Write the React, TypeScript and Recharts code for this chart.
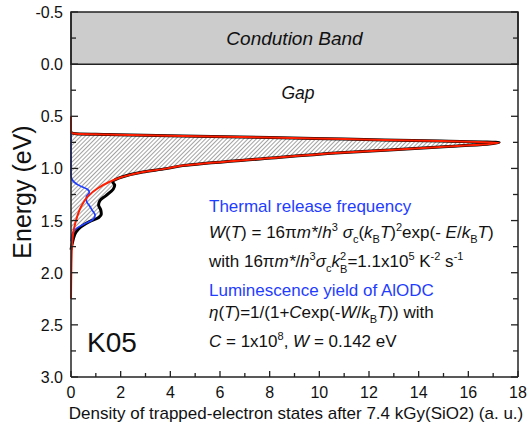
import React from 'react';
import { ComposedChart, Line, Area, XAxis, YAxis, ReferenceArea, Label } from 'recharts';

// trapped-electron density (black, measured) vs energy
const dataEnergy = [0.655, 0.668, 0.675, 0.69, 0.704, 0.719, 0.737, 0.752, 0.795, 0.849, 0.905, 0.973, 1.002, 1.034, 1.08, 1.13, 1.16, 1.2, 1.26, 1.31, 1.35, 1.4, 1.44, 1.47, 1.51, 1.56, 1.61, 1.69, 1.78];
const dataDensity = [0, 0.2, 1.5, 4.5, 8, 11, 14.9, 17.24, 14.86, 10.83, 7.8, 4.5, 3.83, 2.89, 2.08, 1.68, 1.76, 1.7, 1.41, 1.16, 1.11, 1.2, 1.22, 1.12, 0.74, 0.4, 0.2, 0.08, 0];

// fitted distribution (red)
const fitEnergy = [0.5, 0.655, 0.668, 0.675, 0.69, 0.704, 0.719, 0.737, 0.752, 0.795, 0.849, 0.905, 0.973, 1.002, 1.034, 1.08, 1.13, 1.19, 1.27, 1.37, 1.5, 1.62, 1.8, 2.25];
const fitDensity = [0, 0, 0.2, 1.5, 4.5, 8, 11, 14.9, 17.24, 14.86, 10.83, 7.8, 4.5, 3.83, 2.89, 2.08, 1.54, 1.08, 0.67, 0.4, 0.2, 0.09, 0.03, 0];

// luminescence-weighted density (blue)
const lumEnergy = [0.54, 1.06, 1.1, 1.16, 1.2, 1.23, 1.27, 1.31, 1.36, 1.4, 1.45, 1.49, 1.53, 1.57, 1.62, 1.7];
const lumDensity = [0, 0, 0.03, 0.3, 0.66, 0.74, 0.62, 0.62, 0.75, 0.85, 0.97, 0.88, 0.55, 0.25, 0.06, 0];

const xMajor = [0, 2, 4, 6, 8, 10, 12, 14, 16, 18];
const xMinor = [1, 3, 5, 7, 9, 11, 13, 15, 17];
const yMajor = [-0.5, 0, 0.5, 1, 1.5, 2, 2.5, 3];
const yMinor = [-0.25, 0.25, 0.75, 1.25, 1.75, 2.25, 2.75];

const xTicks = [...xMajor, ...xMinor].sort((a, b) => a - b);
const yTicks = [...yMajor, ...yMinor].sort((a, b) => a - b);

const energies = Array.from(new Set([...dataEnergy, ...fitEnergy, ...lumEnergy])).sort((a, b) => a - b);
const table = energies.map((e) => {
  const row: Record<string, number> = { e };
  const i = dataEnergy.indexOf(e);
  const j = fitEnergy.indexOf(e);
  const k = lumEnergy.indexOf(e);
  if (i >= 0) row.data = dataDensity[i];
  if (j >= 0) row.fit = fitDensity[j];
  if (k >= 0) row.lum = lumDensity[k];
  return row;
});

const FONT = '"Liberation Sans", Arial, sans-serif';
const AXIS = '#222';

function XTick(props: any) {
  const { x, y, payload } = props;
  const major = xMajor.includes(payload.value);
  return (
    <g>
      <line x1={x} x2={x} y1={y} y2={y - (major ? 6 : 4)} stroke={AXIS} strokeWidth={1.3} />
      {major && (
        <text x={x} y={y + 21} textAnchor="middle" fontSize={16} fontFamily={FONT} fill="#111">
          {payload.value}
        </text>
      )}
    </g>
  );
}

function YTick(props: any) {
  const { x, y, payload } = props;
  const major = yMajor.includes(payload.value);
  return (
    <g>
      <line x1={x} x2={x + (major ? 7 : 5)} y1={y} y2={y} stroke={AXIS} strokeWidth={1.3} />
      {major && (
        <text x={x - 8} y={y + 6} textAnchor="end" fontSize={16} fontFamily={FONT} fill="#111">
          {payload.value.toFixed(1)}
        </text>
      )}
    </g>
  );
}

function RightTick(props: any) {
  const { x, y, payload } = props;
  const major = yMajor.includes(payload.value);
  return <line x1={x} x2={x - (major ? 7 : 5)} y1={y} y2={y} stroke={AXIS} strokeWidth={1.3} />;
}

const it = { fontStyle: 'italic' as const };

export default function App() {
  return (
    <div style={{ position: 'absolute', left: 0, top: 0, background: '#fff' }}>
      <ComposedChart
        width={530}
        height={432}
        data={table}
        layout="vertical"
        margin={{ top: 12, right: 11, bottom: 15, left: 11 }}
        style={{ fontFamily: FONT }}
      >
        <defs>
          <pattern id="hatch" width={3} height={3} patternUnits="userSpaceOnUse" patternTransform="rotate(45)">
            <line x1={0} y1={0} x2={0} y2={3} stroke="#333" strokeWidth={0.9} />
          </pattern>
        </defs>
        <XAxis
          type="number"
          domain={[0, 18]}
          ticks={xTicks}
          interval={0}
          height={40}
          tickSize={0}
          tickMargin={0}
          tickLine={false}
          tick={(p: any) => <XTick {...p} />}
          axisLine={{ stroke: AXIS, strokeWidth: 1.5 }}
        />
        <YAxis
          type="number"
          dataKey="e"
          domain={[-0.5, 3]}
          ticks={yTicks}
          interval={0}
          width={60}
          tickSize={0}
          tickMargin={0}
          tickLine={false}
          tick={(p: any) => <YTick {...p} />}
          axisLine={{ stroke: AXIS, strokeWidth: 1.5 }}
        />
        <YAxis
          yAxisId="right"
          orientation="right"
          type="number"
          dataKey="e"
          domain={[-0.5, 3]}
          ticks={yTicks}
          interval={0}
          width={1}
          tickSize={0}
          tickMargin={0}
          tickLine={false}
          tick={(p: any) => <RightTick {...p} />}
          axisLine={{ stroke: AXIS, strokeWidth: 1.5 }}
        />
        <ReferenceArea y1={-0.5} y2={0} fill="#cccccc" fillOpacity={1} stroke={AXIS} strokeWidth={1.5}>
          <Label value="Condution Band" position="center" fontStyle="italic" fontSize={19} fill="#111" fontFamily={FONT} />
        </ReferenceArea>
        <Area
          type="monotone"
          dataKey="data"
          fill="url(#hatch)"
          fillOpacity={1}
          stroke="none"
          connectNulls
          isAnimationActive={false}
          activeDot={false}
        />
        <Line type="monotone" dataKey="data" stroke="#000" strokeWidth={3} dot={false} activeDot={false} connectNulls isAnimationActive={false} />
        <Line type="monotone" dataKey="lum" stroke="#1f3dff" strokeWidth={1.7} dot={false} activeDot={false} connectNulls isAnimationActive={false} />
        <Line type="monotone" dataKey="fit" stroke="#ff1e00" strokeWidth={2} dot={false} activeDot={false} connectNulls isAnimationActive={false} />

        <text x={298} y={99} textAnchor="middle" fontStyle="italic" fontSize={17.5} fontFamily={FONT} fill="#111">Gap</text>
        <text x={87} y={352} fontSize={28} fontFamily={FONT} fill="#111">K05</text>
        <text x={31} y={192} transform="rotate(-90, 31, 192)" textAnchor="middle" fontSize={25} fontFamily={FONT} fill="#111">Energy (eV)</text>
        <text x={296} y={419} textAnchor="middle" fontSize={17} fontFamily={FONT} fill="#111">
          Density of trapped-electron states after 7.4 kGy(SiO2) (a. u.)
        </text>

        <g fontFamily={FONT} fontSize={17} fill="#111">
          <text x={209} y={212} fill="#1f3dff">Thermal release frequency</text>
          <text x={209} y={238}>
            <tspan {...it}>W</tspan>(<tspan {...it}>T</tspan>) = 16π<tspan {...it}>m*</tspan>/<tspan {...it}>h</tspan>
            <tspan y={231} fontSize={11}>3</tspan>
            <tspan y={238}>{' '}</tspan><tspan {...it}>σ</tspan>
            <tspan y={243} fontSize={11}>c</tspan>
            <tspan y={238}>(</tspan><tspan {...it}>k</tspan>
            <tspan y={243} fontSize={11}>B</tspan>
            <tspan y={238} {...it}>T</tspan><tspan>)</tspan>
            <tspan y={231} fontSize={11}>2</tspan>
            <tspan y={238}>exp(- </tspan><tspan {...it}>E</tspan>/<tspan {...it}>k</tspan>
            <tspan y={243} fontSize={11}>B</tspan>
            <tspan y={238} {...it}>T</tspan><tspan>)</tspan>
          </text>
          <text x={209} y={267}>
            with 16π<tspan {...it}>m*</tspan>/<tspan {...it}>h</tspan>
            <tspan y={260} fontSize={11}>3</tspan>
            <tspan y={267} {...it}>σ</tspan>
            <tspan y={272} fontSize={11}>c</tspan>
            <tspan y={267} {...it}>k</tspan>
            <tspan y={260} fontSize={11}>2</tspan>
            <tspan y={273} dx={-6} fontSize={11}>B</tspan>
            <tspan y={267}>=1.1x10</tspan>
            <tspan y={260} fontSize={11}>5</tspan>
            <tspan y={267}> K</tspan>
            <tspan y={260} fontSize={11}>-2</tspan>
            <tspan y={267}> s</tspan>
            <tspan y={260} fontSize={11}>-1</tspan>
          </text>
          <text x={209} y={296} fill="#1f3dff">Luminescence yield of AlODC</text>
          <text x={209} y={318}>
            <tspan {...it}>η</tspan>(<tspan {...it}>T</tspan>)=1/(1+<tspan {...it}>C</tspan>exp(-<tspan {...it}>W</tspan>/<tspan {...it}>k</tspan>
            <tspan y={323} fontSize={11}>B</tspan>
            <tspan y={318} {...it}>T</tspan><tspan>)) with</tspan>
          </text>
          <text x={209} y={347}>
            <tspan {...it}>C</tspan> = 1x10
            <tspan y={340} fontSize={11}>8</tspan>
            <tspan y={347}>, </tspan><tspan {...it}>W</tspan> = 0.142 eV
          </text>
        </g>
      </ComposedChart>
    </div>
  );
}
